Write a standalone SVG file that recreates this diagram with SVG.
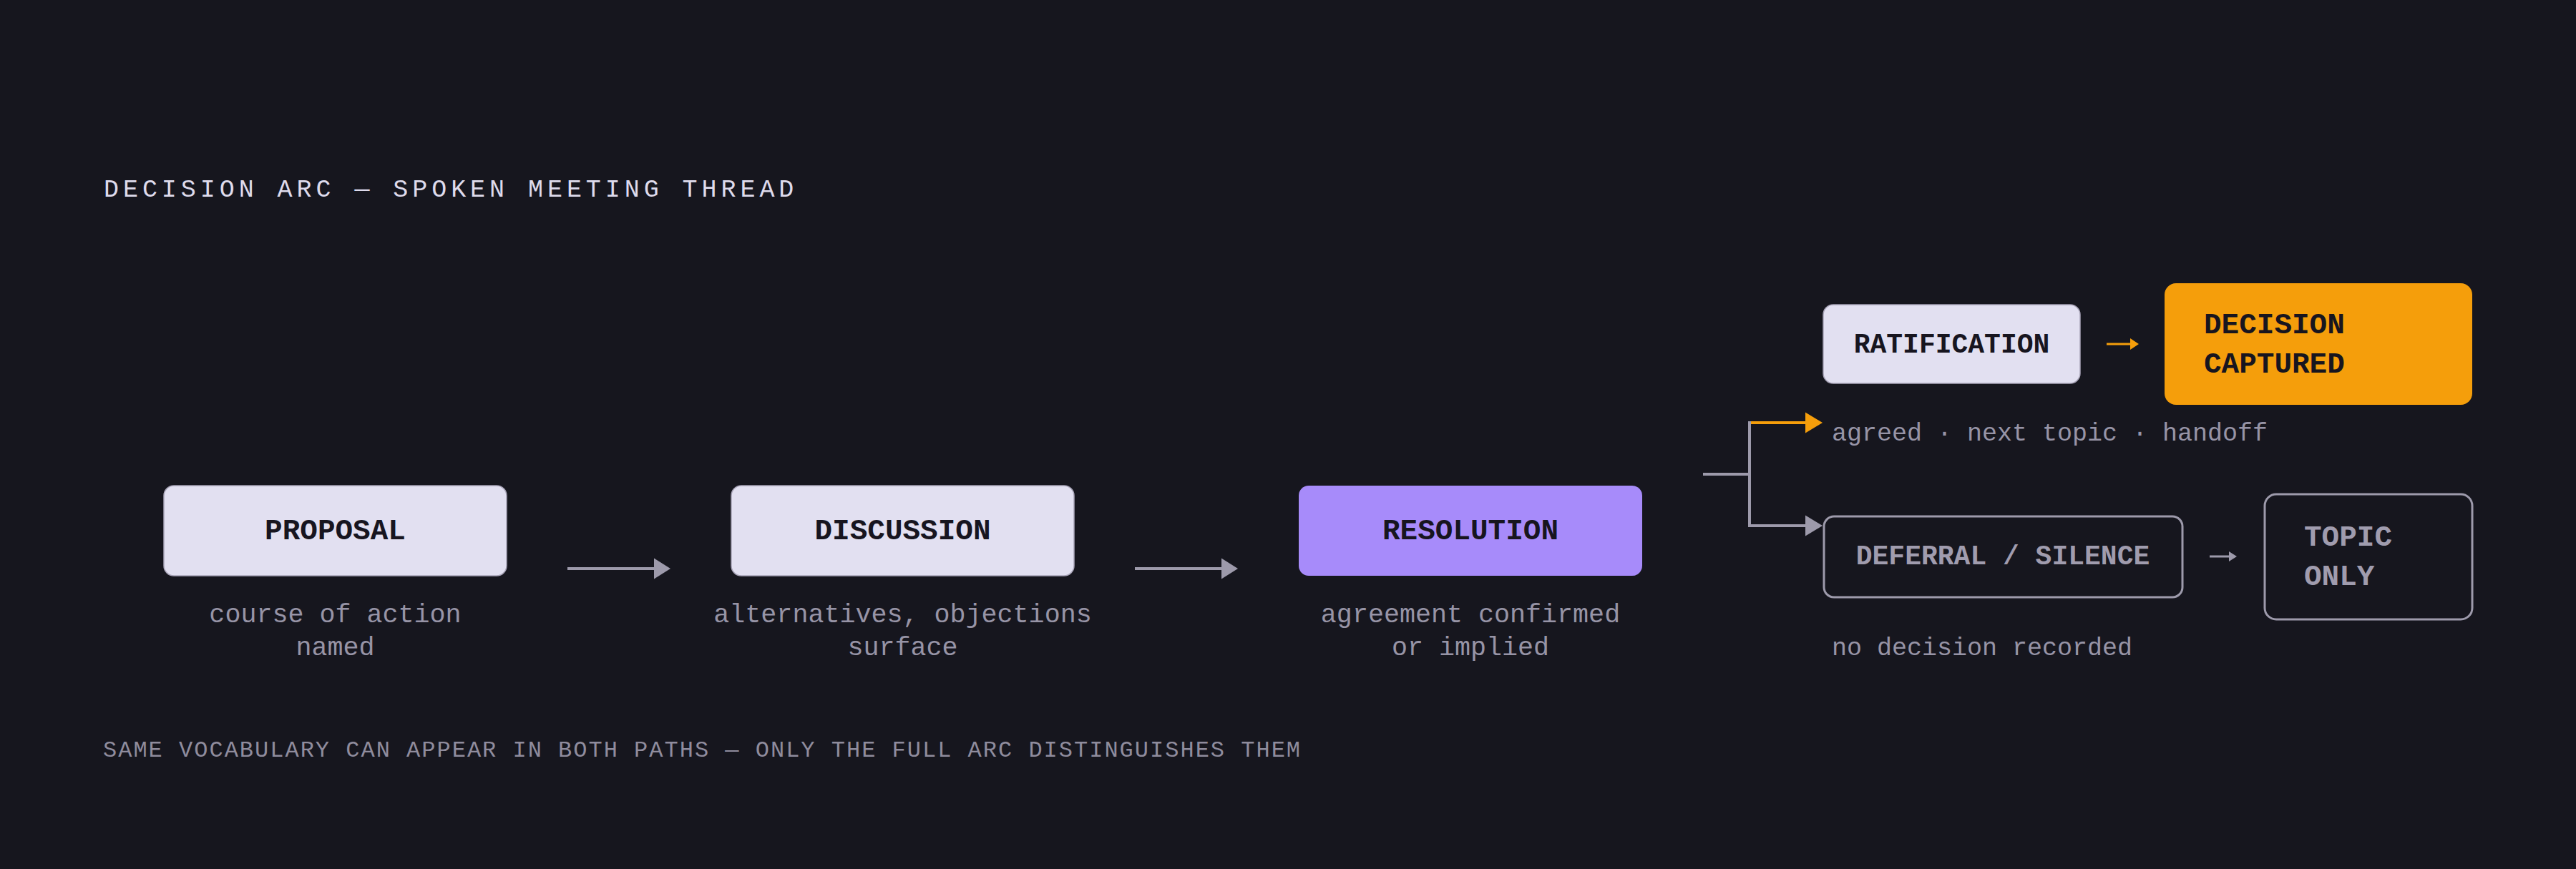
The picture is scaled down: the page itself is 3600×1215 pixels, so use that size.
<svg xmlns="http://www.w3.org/2000/svg" width="3600" height="1215" viewBox="0 0 3600 1215">
<defs>
<style>
text { font-family: "Liberation Mono", "DejaVu Sans Mono", monospace; }
.title { font-size: 35px; letter-spacing: 5.95px; fill: #dedbec; }
.note { font-size: 32px; letter-spacing: 2.0px; fill: #8f8c9d; }
.lbl { font-size: 41px; font-weight: bold; fill: #17151f; }
.lbl2 { font-size: 38px; font-weight: bold; fill: #17151f; }
.dim { fill: #a09cae; }
.cap { font-size: 36.7px; fill: #9794a6; }
.bcap { font-size: 35px; fill: #9794a6; }
.light { fill: #e2e0f1; stroke: #a8a4b8; stroke-width: 1.5; }
.violet { fill: #a78bfa; }
.amber { fill: #f59e0b; }
.ghost { fill: #16161e; stroke: #9d9aab; stroke-width: 3; }
.ln { fill: none; stroke: #9d9aab; stroke-width: 4; }
.lno { fill: none; stroke: #f59e0b; stroke-width: 4; }
.hd { fill: #9d9aab; }
.hdo { fill: #f59e0b; }
</style>
</defs>
<rect x="0" y="0" width="3600" height="1215" fill="#16161e"/>
<text class="title" x="145" y="275">DECISION ARC — SPOKEN MEETING THREAD</text>

<g id="connectors">
<line class="ln" x1="793" y1="795" x2="916" y2="795"/>
<polygon class="hd" points="914,780.5 937,795 914,809.5"/>
<line class="ln" x1="1586" y1="795" x2="1709" y2="795"/>
<polygon class="hd" points="1707,780.5 1730,795 1707,809.5"/>
<line class="ln" x1="2380" y1="663" x2="2445" y2="663"/>
<line class="ln" x1="2445" y1="589" x2="2445" y2="737"/>
<line class="lno" x1="2447" y1="591" x2="2525" y2="591"/>
<polygon class="hdo" points="2523,576.5 2547,591 2523,605.5"/>
<line class="ln" x1="2443" y1="735" x2="2525" y2="735"/>
<polygon class="hd" points="2523,720.5 2547,735 2523,749.5"/>
<line class="lno" x1="2944" y1="481" x2="2979" y2="481" style="stroke-width:3"/>
<polygon class="hdo" points="2977,473 2989,481 2977,489"/>
<line class="ln" x1="3088" y1="778" x2="3117" y2="778" style="stroke-width:3"/>
<polygon class="hd" points="3115,771 3126,778 3115,785"/>
</g>

<g id="proposal">
<rect class="light" x="229" y="679" width="479" height="126" rx="14"/>
<text class="lbl" x="468.5" y="754" text-anchor="middle">PROPOSAL</text>
<text class="cap" x="468.5" y="870" text-anchor="middle">course of action</text>
<text class="cap" x="468.5" y="916" text-anchor="middle">named</text>
</g>

<g id="discussion">
<rect class="light" x="1022" y="679" width="479" height="126" rx="14"/>
<text class="lbl" x="1261.5" y="754" text-anchor="middle">DISCUSSION</text>
<text class="cap" x="1261.5" y="870" text-anchor="middle">alternatives, objections</text>
<text class="cap" x="1261.5" y="916" text-anchor="middle">surface</text>
</g>

<g id="resolution">
<rect class="violet" x="1815" y="679" width="480" height="126" rx="14"/>
<text class="lbl" x="2055" y="754" text-anchor="middle">RESOLUTION</text>
<text class="cap" x="2055" y="870" text-anchor="middle">agreement confirmed</text>
<text class="cap" x="2055" y="916" text-anchor="middle">or implied</text>
</g>

<g id="ratification">
<rect class="light" x="2548" y="426" width="359" height="110" rx="14"/>
<text class="lbl2" x="2727.5" y="493" text-anchor="middle">RATIFICATION</text>
<text class="bcap" x="2560" y="616">agreed · next topic · handoff</text>
</g>

<g id="decision-captured">
<rect class="amber" x="3025" y="396" width="430" height="170" rx="16"/>
<text class="lbl" x="3080" y="466">DECISION</text>
<text class="lbl" x="3080" y="521">CAPTURED</text>
</g>

<g id="deferral">
<rect class="ghost" x="2549" y="722" width="501" height="113" rx="14"/>
<text class="lbl2 dim" x="2799" y="789" text-anchor="middle">DEFERRAL / SILENCE</text>
<text class="bcap" x="2560" y="916">no decision recorded</text>
</g>

<g id="topic-only">
<rect class="ghost" x="3165" y="691" width="290" height="175" rx="16"/>
<text class="lbl dim" x="3220" y="763">TOPIC</text>
<text class="lbl dim" x="3220" y="818">ONLY</text>
</g>

<text class="note" x="144" y="1058">SAME VOCABULARY CAN APPEAR IN BOTH PATHS — ONLY THE FULL ARC DISTINGUISHES THEM</text>
</svg>
